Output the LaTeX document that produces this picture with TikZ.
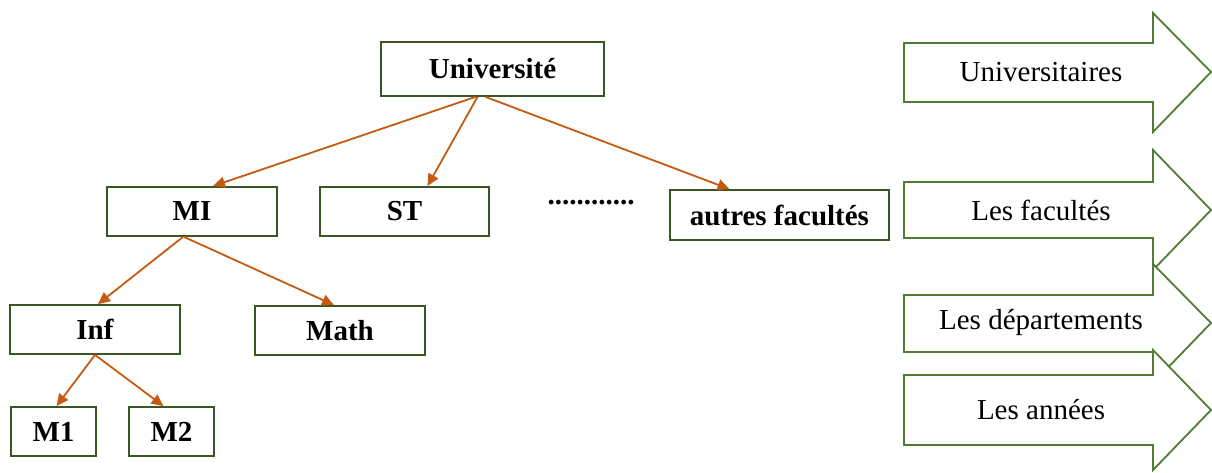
\documentclass[tikz,border=0pt]{standalone}
\usepackage{fontspec}
\setmainfont{Liberation Serif}
\usetikzlibrary{arrows.meta, positioning}

\definecolor{boxgreen}{RGB}{56,87,35}
\definecolor{levelgreen}{RGB}{80,125,50}
\definecolor{linkorange}{RGB}{197,90,17}

\begin{document}
\begin{tikzpicture}[
  x=1pt, y=-1pt,
  font=\fontsize{29}{33}\selectfont,
  box/.style={draw=boxgreen, line width=1.8pt, minimum height=49pt, inner sep=0pt,
              font=\fontsize{29}{33}\selectfont\bfseries},
  lvl/.style={draw=levelgreen, fill=white, line width=1.8pt, line join=miter},
  lbl/.style={font=\fontsize{29}{33}\selectfont},
  ar/.style={-{Triangle[length=12pt,width=11pt]}, line width=1.8pt, linkorange},
]
\useasboundingbox (0,0) rectangle (1212,473);

% ---- tree of the university ----
\node[box, minimum width=223pt, minimum height=54pt] (univ) at (492.5,69) {Université};

\node[box, minimum width=170pt] (mi) at (192,211.5) {MI};
\node[box, minimum width=169pt] (st) at (404.5,211.5) {ST};
\node[font=\fontsize{29}{33}\selectfont\bfseries] (dots) at (591,203) {............};
\node[box, minimum width=219pt, minimum height=50pt] (autres) at (779.5,215) {autres facultés};

\node[box, minimum width=170pt] (inf) at (95,329.5) {Inf};
\node[box, minimum width=170pt] (math) at (340,330.5) {Math};

\node[box, minimum width=85pt] (m1) at (53.5,431.5) {M1};
\node[box, minimum width=85pt] (m2) at (171.5,431.5) {M2};

\draw[ar] ([xshift=-17pt]univ.south) -- ([xshift=21pt]mi.north);
\draw[ar] ([xshift=-15pt]univ.south) -- ([xshift=23pt]st.north);
\draw[ar] ([xshift=-7pt]univ.south) -- ([xshift=-50pt]autres.north);

\draw[ar] ([xshift=-9pt]mi.south) -- ([xshift=3pt]inf.north);
\draw[ar] ([xshift=-8pt]mi.south) -- ([xshift=-6pt]math.north);

\draw[ar] (inf.south) -- ([xshift=3pt]m1.north);
\draw[ar] (inf.south) -- ([xshift=-8pt]m2.north);

% ---- levels (block arrows, later ones on top) ----
\draw[lvl] (904,43) -- (1153,43) -- (1153,13) -- (1211,72) -- (1153,132) -- (1153,102) -- (904,102) -- cycle;
\draw[lvl] (904,182) -- (1153,182) -- (1153,150) -- (1211,210) -- (1153,270) -- (1153,238) -- (904,238) -- cycle;
\draw[lvl] (904,295) -- (1153,295) -- (1153,264) -- (1211,323) -- (1153,383) -- (1153,352) -- (904,352) -- cycle;
\draw[lvl] (904,375) -- (1153,375) -- (1153,350) -- (1211,410) -- (1153,470) -- (1153,445) -- (904,445) -- cycle;

\node[lbl] (universitaires) at (1041,72) {Universitaires};
\node[lbl] (facultes) at (1041,210) {Les facultés};
\node[lbl] (departements) at (1041,323) {Les départements};
\node[lbl] (annees) at (1041,410) {Les années};
\end{tikzpicture}
\end{document}
